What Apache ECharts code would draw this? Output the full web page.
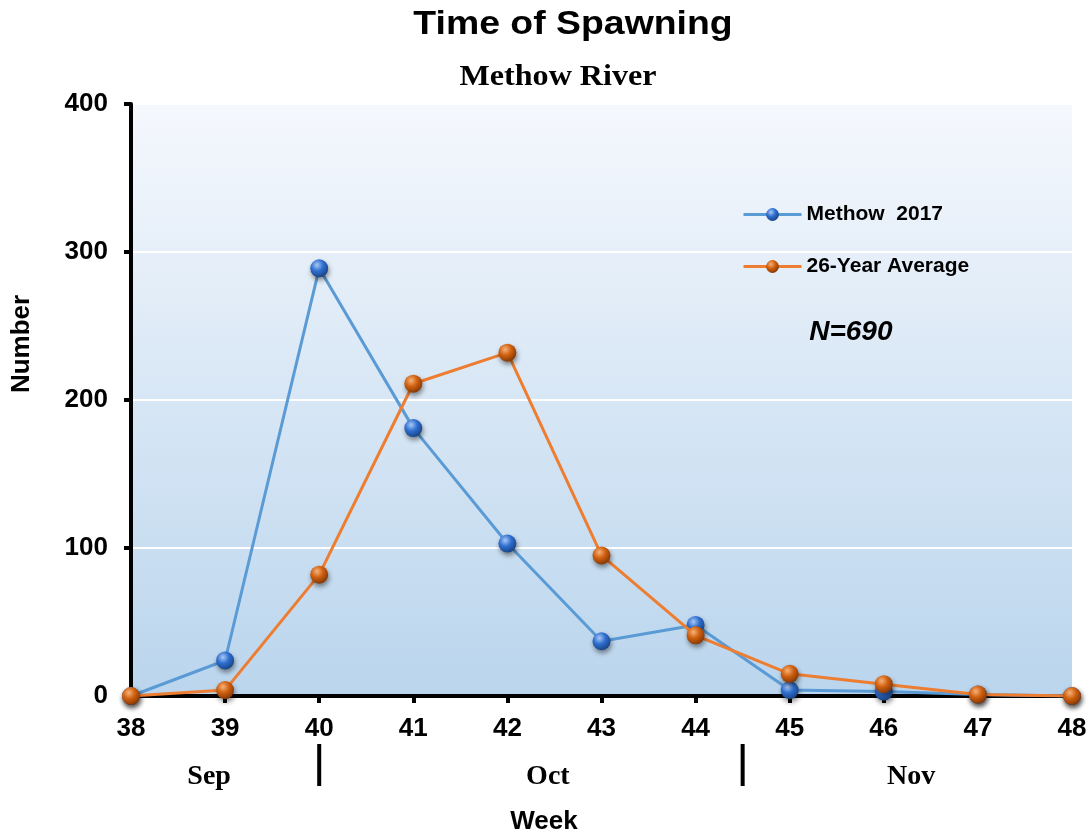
<!DOCTYPE html>
<html>
<head>
<meta charset="utf-8">
<script src="https://cdn.jsdelivr.net/npm/echarts@6/dist/echarts.min.js"></script>
<style>
  html, body { margin: 0; padding: 0; background: #ffffff; }
  #chart { width: 1091px; height: 836px; }
</style>
</head>
<body>
<div id="chart"></div>
<script>
// Weekly redd counts, Methow River
const weeks = [38, 39, 40, 41, 42, 43, 44, 45, 46, 47, 48];
const methow2017 = [0, 24, 289, 181, 103, 37, 48, 4, 3, 1, 0];
const avg26yr = [0, 4, 82, 211, 232, 95, 41, 15, 8, 1, 0];
const yTicks = [0, 100, 200, 300, 400];

// Month bands along the week axis
const monthNames = ['Sep', 'Oct', 'Nov'];
const monthLabelWeeks = [38.83, 42.43, 46.29];
const monthDividerWeeks = [40, 44.5];

const SANS = '"Liberation Sans", Arial, sans-serif';
const SERIF = '"Liberation Serif", "Times New Roman", serif';

const chart = echarts.init(document.getElementById('chart'));

function sphere(base, light, dark) {
  return {
    type: 'radial', x: 0.38, y: 0.32, r: 0.75,
    colorStops: [
      { offset: 0, color: light },
      { offset: 0.45, color: base },
      { offset: 1, color: dark }
    ]
  };
}

const blueBall = sphere('#2f6fd0', '#a9c8f5', '#163d7a');
const orangeBall = sphere('#d0600f', '#f6b27a', '#7a3205');

function pairs(vals) {
  return weeks.map((w, i) => [w, vals[i]]);
}

const option = {
  animation: false,
  backgroundColor: '#ffffff',
  grid: {
    left: 131, right: 19, top: 104, bottom: 140,
    show: true, borderWidth: 0,
    backgroundColor: {
      type: 'linear', x: 0, y: 0, x2: 0, y2: 1,
      colorStops: [
        { offset: 0, color: '#f5f8fd' },
        { offset: 1, color: '#bad5ed' }
      ]
    }
  },
  legend: {
    orient: 'vertical',
    left: 742, top: 204,
    padding: 0,
    itemWidth: 58, itemHeight: 16,
    itemGap: 31,
    lineStyle: { width: 3 },
    textStyle: { fontFamily: SANS, fontWeight: 'bold', fontSize: 21, color: '#000' },
    data: ['Methow  2017', '26-Year Average']
  },
  xAxis: {
    type: 'value', min: 38, max: 48, interval: 1,
    axisLine: { show: true, onZero: false, lineStyle: { color: '#000', width: 4 } },
    axisTick: { show: true, length: 7, lineStyle: { color: '#000', width: 4 } },
    axisLabel: { margin: 20, fontFamily: SANS, fontWeight: 'bold', fontSize: 26, color: '#000' },
    splitLine: { show: false }
  },
  yAxis: {
    type: 'value', min: 0, max: 400, interval: 100,
    axisLine: { show: true, lineStyle: { color: '#000', width: 4 } },
    axisTick: { show: true, length: 7, lineStyle: { color: '#000', width: 4 } },
    axisLabel: {
      margin: 23, fontFamily: SANS, fontWeight: 'bold', fontSize: 26, color: '#000',
      formatter: v => (yTicks.indexOf(v) >= 0 ? String(v) : '')
    },
    splitLine: { show: true, lineStyle: { color: '#ffffff', width: 2 } }
  },
  series: [
    {
      name: 'Methow  2017',
      type: 'line',
      data: pairs(methow2017),
      z: 3,
      symbol: 'circle', symbolSize: 18,
      lineStyle: { color: '#5b9bd5', width: 3 },
      itemStyle: {
        color: blueBall, borderWidth: 0,
        shadowColor: 'rgba(0,0,0,0.45)', shadowBlur: 5, shadowOffsetX: 1, shadowOffsetY: 3
      }
    },
    {
      name: '26-Year Average',
      type: 'line',
      data: pairs(avg26yr),
      z: 4,
      symbol: 'circle', symbolSize: 18,
      lineStyle: { color: '#ed7d31', width: 3 },
      itemStyle: {
        color: orangeBall, borderWidth: 0,
        shadowColor: 'rgba(0,0,0,0.45)', shadowBlur: 5, shadowOffsetX: 1, shadowOffsetY: 3
      }
    }
  ]
};

chart.setOption(option);

function txt(text, x, y, font, extra) {
  return Object.assign({
    type: 'text', x: x, y: y,
    style: { text: text, align: 'center', verticalAlign: 'middle', font: font, fill: '#000' }
  }, extra || {});
}

const graphics = [];
// Titles
graphics.push(txt('Time of Spawning', 573, 25, 'bold 34px ' + SANS, { scaleX: 1.1 }));
graphics.push(txt('Methow River', 558, 77, 'bold 30px ' + SERIF, { scaleX: 1.07 }));

// Axis names
graphics.push(txt('Number', 22, 344, 'bold 26px ' + SANS, { rotation: Math.PI / 2 }));
graphics.push(txt('Week', 544, 822, 'bold 26px ' + SANS));

// Month labels and dividers below the week axis
const yBase = chart.convertToPixel({ gridIndex: 0 }, [38, 0])[1];
monthNames.forEach((m, i) => {
  const x = chart.convertToPixel({ gridIndex: 0 }, [monthLabelWeeks[i], 0])[0];
  graphics.push(txt(m, x, yBase + 81, 'bold 28px ' + SERIF));
});
monthDividerWeeks.forEach(w => {
  const x = chart.convertToPixel({ gridIndex: 0 }, [w, 0])[0];
  graphics.push({
    type: 'line',
    shape: { x1: x, y1: yBase + 48, x2: x, y2: yBase + 90 },
    style: { stroke: '#000', lineWidth: 4 }
  });
});

// Sample size note
const nPos = chart.convertToPixel({ gridIndex: 0 }, [45.65, 246]);
graphics.push(txt('N=690', nPos[0], nPos[1], 'italic bold 28px ' + SANS));

chart.setOption({ graphic: graphics });
</script>
</body>
</html>
